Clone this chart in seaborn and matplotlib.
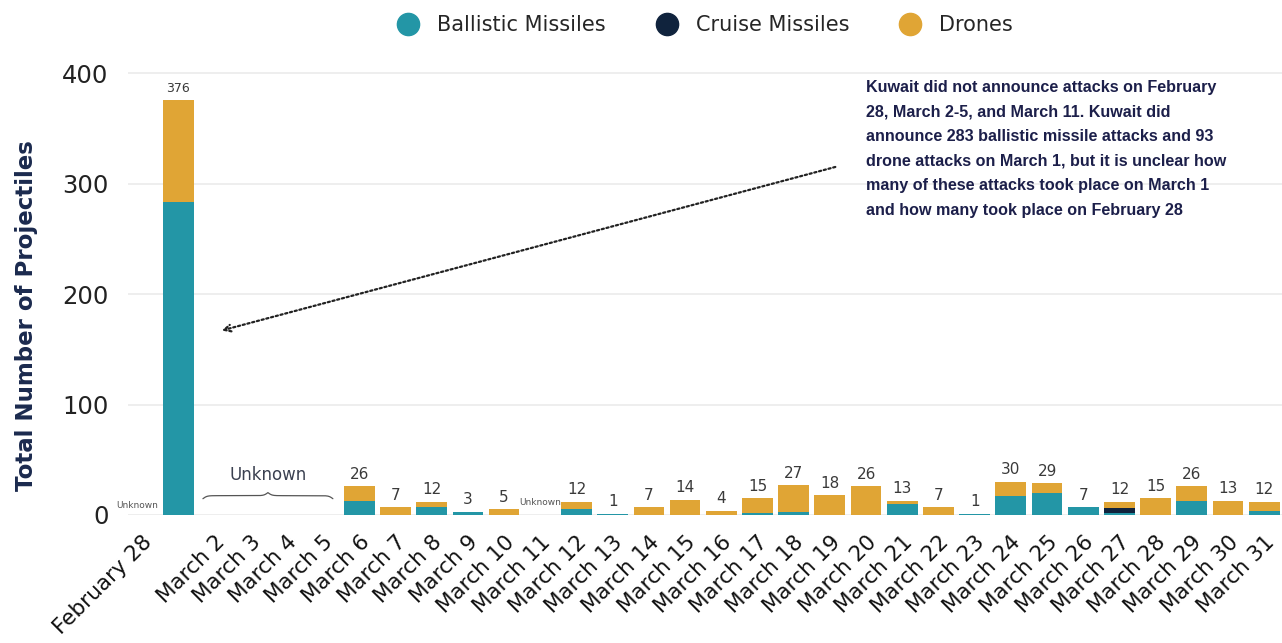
import numpy as np
import pandas as pd
import seaborn as sns
import matplotlib.pyplot as plt
from matplotlib.lines import Line2D

# Dates (Feb 28 through March 31)
dates = ["February 28"] + [f"March {d}" for d in range(1, 32)]
tick_labels = ["February 28", ""] + [f"March {d}" for d in range(2, 32)]

# Projectiles per day (0 where Kuwait did not announce)
ballistic = [0, 283, 0, 0, 0, 0, 13, 0, 7, 3, 0, 0, 5, 1, 0, 0, 0, 2, 3, 0, 0,
             10, 0, 1, 17, 20, 7, 2, 0, 13, 0, 4]
cruise = [0, 0, 0, 0, 0, 0, 0, 0, 0, 0, 0, 0, 0, 0, 0, 0, 0, 0, 0, 0, 0,
          0, 0, 0, 0, 0, 0, 4, 0, 0, 0, 0]
drones = [0, 93, 0, 0, 0, 0, 13, 7, 5, 0, 5, 0, 7, 0, 7, 14, 4, 13, 24, 18, 26,
          3, 7, 0, 13, 9, 0, 6, 15, 13, 13, 8]

note = ("Kuwait did not announce attacks on February\n"
        "28, March 2-5, and March 11. Kuwait did\n"
        "announce 283 ballistic missile attacks and 93\n"
        "drone attacks on March 1, but it is unclear how\n"
        "many of these attacks took place on March 1\n"
        "and how many took place on February 28")

teal = "#2396a6"
navy = "#10233d"
gold = "#e0a535"

df = pd.DataFrame({"date": dates, "ballistic": ballistic, "cruise": cruise, "drones": drones})
df["bc"] = df["ballistic"] + df["cruise"]
df["total"] = df["bc"] + df["drones"]

sns.set_theme(style="white")
plt.rcParams["font.family"] = ["DejaVu Sans"]

fig = plt.figure(figsize=(12.82, 6.43), dpi=100)
ax = fig.add_axes([128 / 1282, 128 / 643, 1154 / 1282, 453 / 643])

# layered bars to get the stack
for col, c in (("total", gold), ("bc", navy), ("ballistic", teal)):
    sns.barplot(data=df, x="date", y=col, order=dates, color=c, width=0.85,
                saturation=1, linewidth=0, ax=ax, zorder=3)

# totals above bars
for i, t in enumerate(df["total"]):
    if t > 0:
        ax.text(i, t + 4, str(t), ha="center", va="bottom",
                fontsize=9 if t > 100 else 11, color="#3a3a3a")

# unknown markers
ax.text(0.45, 9, "Unknown", ha="right", va="center", fontsize=6.5, color="#555555")
ax.text(dates.index("March 11"), 11, "Unknown", ha="center", va="center",
        fontsize=6.5, color="#555555")

# curly brace over March 2-5
x0, x1 = 1.68, 5.27
xs = np.linspace(x0, x1, 301)
xh = xs[:151]
beta = 18.0
yh = 1 / (1 + np.exp(-beta * (xh - xh[0]))) + 1 / (1 + np.exp(-beta * (xh - xh[-1])))
yb = np.concatenate((yh, yh[-2::-1]))
ax.plot(xs, 12 + yb * 5.5, color="#555555", lw=0.9, zorder=4)
ax.text((x0 + x1) / 2, 36, "Unknown", ha="center", va="center", fontsize=12, color="#3a4050")

# note and dotted arrow
ax.annotate("", xy=(2.2, 167), xytext=(19.15, 315),
            arrowprops=dict(arrowstyle="->", linestyle=(0, (1, 1.2)), color="#222222",
                            lw=1.6, shrinkA=0, shrinkB=0), zorder=5)
fig.text(866 / 1282, 1 - 80 / 643, note, ha="left", va="top", fontsize=11.6,
         fontweight="bold", color="#1c1f4a", linespacing=1.8,
         family="Liberation Sans")

ax.set_xlim(-0.39, 31.49)
ax.set_ylim(0, 410)
ax.set_yticks([0, 100, 200, 300, 400])
ax.yaxis.grid(True, color="#ebebeb", lw=1.2, zorder=0)
ax.set_axisbelow(True)
sns.despine(ax=ax, left=True, bottom=True)
ax.tick_params(axis="y", labelsize=17.5, pad=14, length=0, labelcolor="#222222")
ax.set_xticks(range(len(dates)))
ax.set_xticklabels(tick_labels, rotation=45, ha="right", rotation_mode="anchor",
                   fontsize=15.5, color="#111111")
ax.tick_params(axis="x", length=0, pad=12)
ax.set_xlabel("")
ax.set_ylabel("Total Number of Projectiles", fontsize=16.5, fontweight="bold",
              color="#1b2a4e")
ax.yaxis.set_label_coords(-0.078, 0.44)

handles = [Line2D([], [], marker="o", ls="", markersize=16, color=c)
           for c in (teal, navy, gold)]
fig.legend(handles, ["Ballistic Missiles", "Cruise Missiles", "Drones"],
           loc="center", bbox_to_anchor=(700 / 1282, 1 - 25 / 643), ncol=3,
           frameon=False, fontsize=15, handletextpad=0.4, columnspacing=1.9)

fig.savefig("out.png", dpi=100)
